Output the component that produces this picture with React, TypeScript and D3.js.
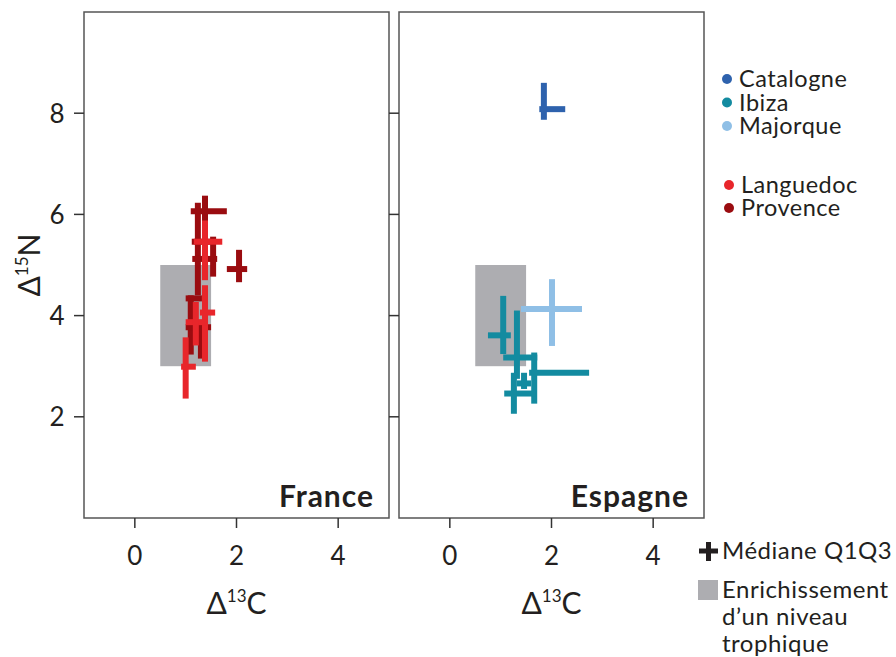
import React from "react";
import * as d3 from "d3";

// ---- data (medians and interquartile ranges, Δ13C / Δ15N) ----
const xTicks = [0, 2, 4];
const yTicks = [2, 4, 6, 8];
const enrichX = [0.5, 1.5];
const enrichY = [3, 5];

// each cross: [medianX, medianY, q1X, q3X, q1Y, q3Y]
const catalogne = [[1.85, 8.08, 1.76, 2.27, 7.87, 8.6]];
const ibiza = [
  [1.05, 3.61, 0.75, 1.2, 3.24, 4.39],
  [1.32, 3.17, 1.05, 1.72, 2.75, 4.1],
  [1.66, 2.87, 1.56, 2.74, 2.26, 3.27],
  [1.26, 2.46, 1.07, 1.68, 2.06, 2.87],
  [1.46, 2.66, 1.32, 1.6, 2.55, 2.87],
];
const majorque = [[2.01, 4.13, 1.4, 2.6, 3.4, 4.72]];
const provence = [
  [1.38, 6.06, 1.1, 1.81, 5.3, 6.37],
  [1.24, 5.46, 1.12, 1.5, 4.4, 6.23],
  [1.54, 5.12, 1.13, 1.62, 4.77, 5.56],
  [2.05, 4.92, 1.81, 2.21, 4.66, 5.3],
  [1.1, 4.34, 1.0, 1.32, 3.23, 4.4],
  [1.3, 3.77, 1.0, 1.5, 3.15, 3.8],
];
const languedoc = [
  [1.38, 5.46, 1.16, 1.72, 4.7, 5.88],
  [1.38, 4.06, 1.28, 1.58, 3.09, 4.6],
  [1.2, 3.87, 1.0, 1.44, 3.41, 4.27],
  [1.0, 2.99, 0.91, 1.2, 2.36, 3.57],
];

const legendEspagne = ["Catalogne", "Ibiza", "Majorque"];
const legendFrance = ["Languedoc", "Provence"];
const colorMap: Record<string, string> = {
  Catalogne: "#2e62ad",
  Ibiza: "#138ba0",
  Majorque: "#8fbfe6",
  Languedoc: "#e8262b",
  Provence: "#9a0c10",
};

const FONT = "Lato, 'Open Sans', sans-serif";
const TXT = "#231f20";

type Cross = number[];

function Crosses({ data, color, x, y }: { data: Cross[]; color: string; x: any; y: any }) {
  return (
    <g stroke={color} strokeWidth={6} strokeLinecap="butt">
      {data.map((c, i) => (
        <g key={i}>
          <line x1={x(c[2])} x2={x(c[3])} y1={y(c[1])} y2={y(c[1])} />
          <line x1={x(c[0])} x2={x(c[0])} y1={y(c[4])} y2={y(c[5])} />
        </g>
      ))}
    </g>
  );
}

function Panel({ x, y, title, children, leftAxis }: any) {
  const [x0, x1] = x.range();
  const [y0, y1] = y.range();
  const eg = "#adadb1";
  return (
    <g>
      <rect
        x={x(enrichX[0])}
        y={y(enrichY[1])}
        width={x(enrichX[1]) - x(enrichX[0])}
        height={y(enrichY[0]) - y(enrichY[1])}
        fill={eg}
      />
      {children}
      <rect x={x0} y={y1} width={x1 - x0} height={y0 - y1} fill="none" stroke="#555" strokeWidth={1.5} />
      {yTicks.map((t) => (
        <line key={t} x1={x0 - 10} x2={x0} y1={y(t)} y2={y(t)} stroke="#333" strokeWidth={1.5} />
      ))}
      {leftAxis &&
        yTicks.map((t) => (
          <text key={t} x={x0 - 27} y={y(t)} dy="0.36em" textAnchor="middle" fontFamily={FONT} fontSize={26} fill={TXT}>
            {t}
          </text>
        ))}
      {xTicks.map((t) => (
        <g key={t}>
          <line x1={x(t)} x2={x(t)} y1={y0} y2={y0 + 10} stroke="#333" strokeWidth={1.5} />
          <text x={x(t)} y={y0 + 47} textAnchor="middle" fontFamily={FONT} fontSize={26} fill={TXT}>
            {t}
          </text>
        </g>
      ))}
      <text x={x1 - 15} y={y0 - 11} textAnchor="end" fontFamily={FONT} fontWeight="bold" fontSize={30} letterSpacing={1} fill={TXT}>
        {title}
      </text>
      <text x={(x0 + x1) / 2} y={y0 + 96} textAnchor="middle" fontFamily={FONT} fontSize={30} fill={TXT}>
        Δ<tspan fontSize={17} dy={-12}>13</tspan>
        <tspan dy={12}>C</tspan>
      </text>
    </g>
  );
}

export default function App() {
  const y = d3.scaleLinear().domain([0, 10]).range([518, 12]);
  const xF = d3.scaleLinear().domain([-1, 5]).range([84, 389]);
  const xE = d3.scaleLinear().domain([-1, 5]).range([399, 704]);

  return (
    <svg
      width={896}
      height={657}
      style={{ position: "absolute", left: 0, top: 0, background: "#fff" }}
    >
      <Panel x={xF} y={y} title="France" leftAxis>
        <Crosses data={provence} color={colorMap.Provence} x={xF} y={y} />
        <Crosses data={languedoc} color={colorMap.Languedoc} x={xF} y={y} />
      </Panel>
      <Panel x={xE} y={y} title="Espagne">
        <Crosses data={catalogne} color={colorMap.Catalogne} x={xE} y={y} />
        <Crosses data={majorque} color={colorMap.Majorque} x={xE} y={y} />
        <Crosses data={ibiza} color={colorMap.Ibiza} x={xE} y={y} />
      </Panel>

      <text transform="translate(40,265) rotate(-90)" textAnchor="middle" fontFamily={FONT} fontSize={30} fill={TXT}>
        Δ<tspan fontSize={17} dy={-12}>15</tspan>
        <tspan dy={12}>N</tspan>
      </text>

      {legendEspagne.map((g, i) => (
        <g key={g}>
          <circle cx={727} cy={79 + i * 23.5} r={5} fill={colorMap[g]} />
          <text x={739} y={79 + i * 23.5} dy="0.35em" fontFamily={FONT} fontSize={23.5} letterSpacing={0.5} fill={TXT}>
            {g}
          </text>
        </g>
      ))}
      {legendFrance.map((g, i) => (
        <g key={g}>
          <circle cx={729} cy={185 + i * 23} r={5} fill={colorMap[g]} />
          <text x={741} y={185 + i * 23} dy="0.35em" fontFamily={FONT} fontSize={23.5} letterSpacing={0.5} fill={TXT}>
            {g}
          </text>
        </g>
      ))}

      <g stroke={TXT} strokeWidth={5}>
        <line x1={699} x2={718} y1={551} y2={551} />
        <line x1={708.5} x2={708.5} y1={542} y2={561} />
      </g>
      <text x={722} y={559} fontFamily={FONT} fontSize={24} letterSpacing={0.5} fill={TXT}>
        Médiane Q1Q3
      </text>
      <rect x={698} y={580} width={20} height={20} fill="#adadb1" />
      <text fontFamily={FONT} fontSize={24} letterSpacing={0.5} fill={TXT}>
        <tspan x={722} y={598}>Enrichissement</tspan>
        <tspan x={722} y={625}>d’un niveau</tspan>
        <tspan x={722} y={652}>trophique</tspan>
      </text>
    </svg>
  );
}
